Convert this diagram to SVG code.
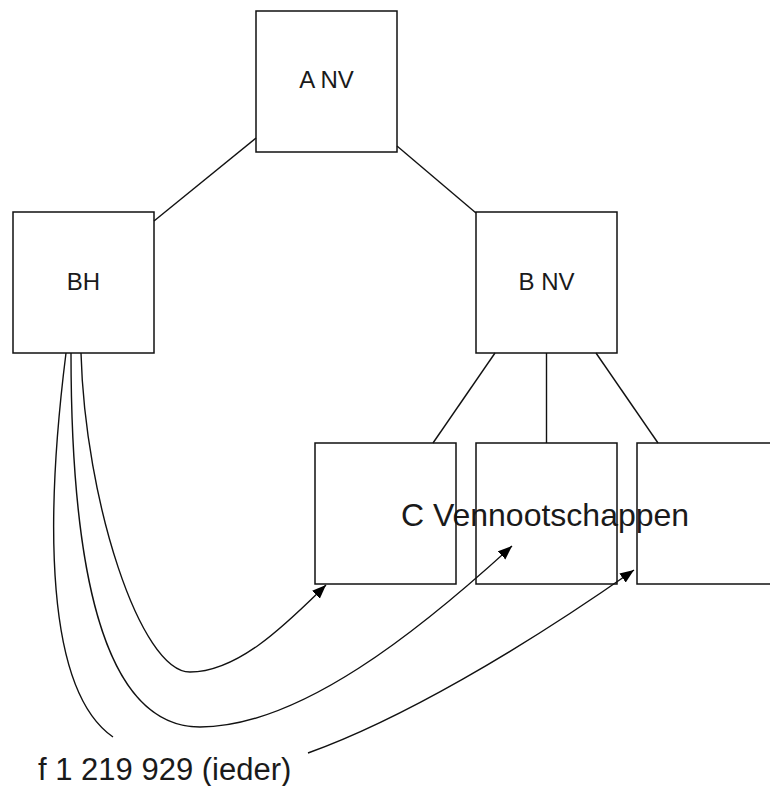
<svg xmlns="http://www.w3.org/2000/svg" width="770" height="786" viewBox="0 0 770 786">
<style>
.box{fill:none;stroke:#111;stroke-width:1.5}
.ln{fill:none;stroke:#111;stroke-width:1.4}
.t{font-family:"Liberation Sans",Arial,sans-serif;fill:#1a1a1a}
.n{font-size:24px;text-anchor:middle}
</style>
<defs>
<marker id="arr" markerUnits="userSpaceOnUse" markerWidth="16" markerHeight="14" refX="14" refY="5.5" orient="auto">
<path d="M0,0 L14,5.5 L0,11 z" fill="#000"/>
</marker>
</defs>
<rect width="770" height="786" fill="#fff"/>
<g id="label-c"><text class="t" x="545" y="526" font-size="32" text-anchor="middle">C Vennootschappen</text></g>
<g id="connectors">
<line class="ln" x1="256" y1="138" x2="154" y2="221"/>
<line class="ln" x1="397" y1="146" x2="476" y2="213"/>
<line class="ln" x1="495" y1="353" x2="433" y2="443"/>
<line class="ln" x1="546.5" y1="353" x2="546.5" y2="443"/>
<line class="ln" x1="596" y1="353" x2="658" y2="443"/>
<path class="ln" d="M81,353 C85,500 140,672 190,672 C240,672 290,620 326,585" marker-end="url(#arr)"/>
<path class="ln" d="M71,353 C71,560 100,727 200,727 C300,727 420,630 512,546" marker-end="url(#arr)"/>
<path class="ln" d="M66,353 C45,520 45,690 113,737"/>
<path class="ln" d="M308,753 C400,720 520,650 634,570" marker-end="url(#arr)"/>
</g>
<g id="a-nv"><rect class="box" x="256" y="11" width="141" height="141"/><text class="t n" x="326.5" y="88">A NV</text></g>
<g id="bh"><rect class="box" x="13" y="212" width="141" height="141"/><text class="t n" x="83.5" y="290">BH</text></g>
<g id="b-nv"><rect class="box" x="476" y="212" width="141" height="141"/><text class="t n" x="546.5" y="290">B NV</text></g>
<g id="c1"><rect class="box" x="315" y="443" width="141" height="141"/></g>
<g id="c2"><rect class="box" x="476" y="443" width="141" height="141"/></g>
<g id="c3"><rect class="box" x="637" y="443" width="141" height="141"/></g>
<g id="label-f"><text class="t" x="38" y="780" font-size="31">f 1 219 929 (ieder)</text></g>
</svg>
